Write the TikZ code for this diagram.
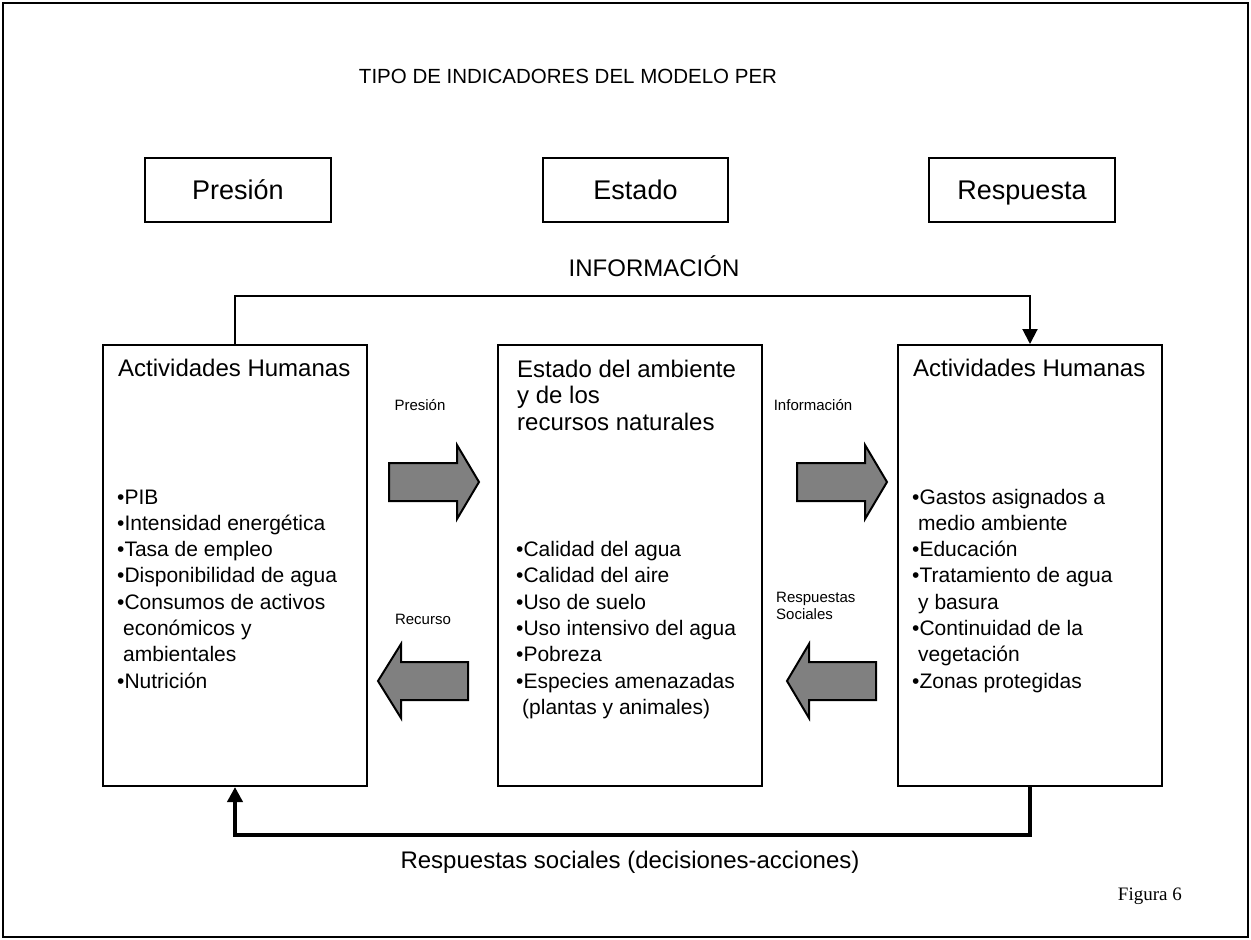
\documentclass[tikz,border=0pt]{standalone}
\usepackage{fontspec}
\setmainfont{Liberation Sans}
\newfontfamily\figserif{Liberation Serif}
\usetikzlibrary{arrows.meta}
\begin{document}
\begin{tikzpicture}[x=1pt,y=-1pt,
  boxs/.style={draw, line width=2pt, inner sep=0pt},
  head/.style={font=\fontsize{24}{28}\selectfont, inner sep=0pt, anchor=base},
  hdr/.style={font=\fontsize{27}{30}\selectfont, inner sep=0pt, anchor=base},
  hl/.style={font=\fontsize{24}{28}\selectfont, inner sep=0pt, anchor=base west},
  it/.style={font=\fontsize{21}{25}\selectfont, inner sep=0pt, anchor=base west},
  lab/.style={font=\fontsize{15}{17}\selectfont, inner sep=0pt, anchor=base},
  labl/.style={font=\fontsize{15}{17}\selectfont, inner sep=0pt, anchor=base west},
  bigarrow/.style={draw=black, fill=gray, line width=2pt, line join=miter},
  conn/.style={line width=2pt},
  thickconn/.style={line width=4pt},
]
\useasboundingbox (0,0) rectangle (1251,940);
\draw[line width=2pt] (3,3) rectangle (1248,937);

% title
\node[head, font=\fontsize{20.5}{24}\selectfont] (title) at (568,83) {TIPO DE INDICADORES DEL MODELO PER};

% header boxes
\node[boxs, minimum width=186pt, minimum height=64pt] (hP) at (238,190) {};
\node[boxs, minimum width=185pt, minimum height=64pt] (hE) at (635.5,190) {};
\node[boxs, minimum width=186pt, minimum height=64pt] (hR) at (1022,190) {};
\node[hdr] (tP) at (238,199.5) {Presión};
\node[hdr] (tE) at (635.5,199.5) {Estado};
\node[hdr] (tR) at (1022,199.5) {Respuesta};

\node[head] (info) at (654,276) {INFORMACIÓN};

% main boxes
\node[boxs, minimum width=264pt, minimum height=441pt] (L) at (235,565.5) {};
\node[boxs, minimum width=264pt, minimum height=441pt] (M) at (630,565.5) {};
\node[boxs, minimum width=264pt, minimum height=441pt] (R) at (1030,565.5) {};

% left box text
\node[hl] (L0) at (118,376) {Actividades Humanas};
\node[it] (L1) at (117,504) {•PIB};
\node[it] (L2) at (117,530.3) {•Intensidad energética};
\node[it] (L3) at (117,556.6) {•Tasa de empleo};
\node[it] (L4) at (117,582.9) {•Disponibilidad de agua};
\node[it] (L5) at (117,609.2) {•Consumos de activos};
\node[it] (L6) at (123,635.5) {económicos y};
\node[it] (L7) at (123,661.8) {ambientales};
\node[it] (L8) at (117,688.1) {•Nutrición};

% middle box text
\node[hl] (M0) at (517,377) {Estado del ambiente};
\node[hl] (M0b) at (517,403.5) {y de los};
\node[hl] (M0c) at (517,430) {recursos naturales};
\node[it] (M1) at (516,556.5) {•Calidad del agua};
\node[it] (M2) at (516,582.8) {•Calidad del aire};
\node[it] (M3) at (516,609.1) {•Uso de suelo};
\node[it] (M4) at (516,635.4) {•Uso intensivo del agua};
\node[it] (M5) at (516,661.7) {•Pobreza};
\node[it] (M6) at (516,688) {•Especies amenazadas};
\node[it] (M7) at (522,714.3) {(plantas y animales)};

% right box text
\node[hl] (R0) at (913,376) {Actividades Humanas};
\node[it] (R1) at (912,504) {•Gastos asignados a};
\node[it] (R2) at (918,530.3) {medio ambiente};
\node[it] (R3) at (912,556.6) {•Educación};
\node[it] (R4) at (912,582.9) {•Tratamiento de agua};
\node[it] (R5) at (918,609.2) {y basura};
\node[it] (R6) at (912,635.5) {•Continuidad de la};
\node[it] (R7) at (918,661.8) {vegetación};
\node[it] (R8) at (912,688.1) {•Zonas protegidas};

% small labels
\node[lab] (aP) at (420,410) {Presión};
\node[lab] (aI) at (813,410) {Información};
\node[lab] (aRe) at (423,624) {Recurso};
\node[labl] (aRs1) at (776,602) {Respuestas};
\node[labl] (aRs2) at (776,619) {Sociales};

% big block arrows
\draw[bigarrow] (389,463) -- (457,463) -- (457,445) -- (479,482) -- (457,519) -- (457,501) -- (389,501) -- cycle;
\draw[bigarrow] (797,463) -- (865,463) -- (865,445) -- (887,482) -- (865,519) -- (865,501) -- (797,501) -- cycle;
\draw[bigarrow] (468,662) -- (401,662) -- (401,644) -- (378,681) -- (401,718) -- (401,700) -- (468,700) -- cycle;
\draw[bigarrow] (876,662) -- (809,662) -- (809,644) -- (787,681) -- (809,718) -- (809,700) -- (876,700) -- cycle;

% connectors
\draw[conn, -{Triangle[length=15pt,width=15pt]}] (L.north) -- ++(0,-48) -| (R.north);
\draw[thickconn, -{Triangle[length=15pt,width=15pt]}] (R.south) -- ++(0,48) -| (L.south);

\node[head] (resp) at (630,868) {Respuestas sociales (decisiones-acciones)};
\node[inner sep=0pt, anchor=base east, font=\figserif\fontsize{19}{22}\selectfont] (fig) at (1182,900) {Figura 6};
\end{tikzpicture}
\end{document}
